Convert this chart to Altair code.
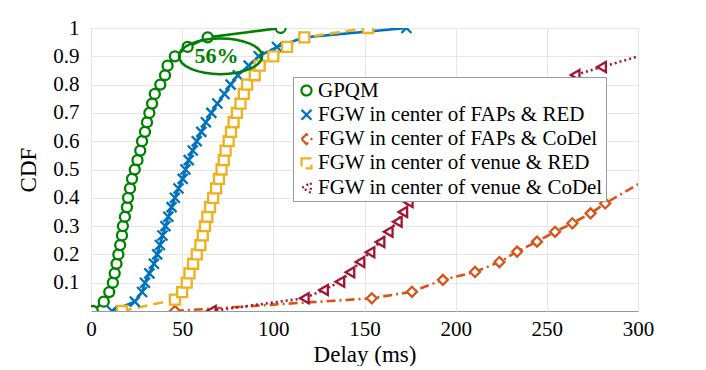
import altair as alt
import pandas as pd

series_names = [
    "GPQM",
    "FGW in center of FAPs & RED",
    "FGW in center of FAPs & CoDel",
    "FGW in center of venue & RED",
    "FGW in center of venue & CoDel",
]
colors = ["#008000", "#0072BD", "#D95319", "#EDB120", "#A2142F"]
x_path = "M-1,-1L1,1M-1,1L1,-1"
shapes = ["circle", x_path, "diamond", "square", "triangle-left"]
dashes = [[1, 0], [1, 0], [9, 4, 2, 4], [10, 6], [2, 3]]

gpqm_x = [1, 7, 10, 12, 13, 14, 15, 16, 17, 17.5, 18.6, 19.7, 20.3, 21.4, 22.5, 24, 25.5, 27, 28,
          29.6, 30.7, 32, 33.5, 35, 38, 40.6, 42, 46, 53, 64, 104]
gpqm_y = [0, 0.033, 0.067, 0.1, 0.133, 0.167, 0.2, 0.233, 0.267, 0.3, 0.333, 0.367, 0.4, 0.433,
          0.467, 0.5, 0.533, 0.567, 0.6, 0.633, 0.667, 0.7, 0.733, 0.767, 0.8, 0.833, 0.867, 0.9,
          0.933, 0.967, 1.0]

faps_red_x = [11.5, 24, 28, 29.6, 32, 34.5, 36.3, 37.8, 39.2, 40.8, 42.4, 44.2, 46, 48, 50.3,
              51.8, 53.6, 55.8, 58, 60.5, 63, 66, 69.3, 73.2, 76.6, 80.5, 86.5, 92, 102, 117, 173]
faps_red_y = [0, 0.033, 0.067, 0.1, 0.133, 0.167, 0.2, 0.233, 0.267, 0.3, 0.333, 0.367, 0.4,
              0.433, 0.467, 0.5, 0.533, 0.567, 0.6, 0.633, 0.667, 0.7, 0.733, 0.767, 0.8, 0.833,
              0.867, 0.9, 0.933, 0.967, 1.0]

faps_codel_x = [46, 154, 176, 193, 210.6, 224, 233.7, 244.6, 254.5, 264, 274, 282, 306]
faps_codel_y = [0, 0.045, 0.068, 0.11, 0.138, 0.173, 0.21, 0.245, 0.28, 0.31, 0.345, 0.38, 0.47]

venue_red_x = [17, 46, 50, 52.5, 54, 56, 58, 60, 61.3, 62.5, 63.8, 65.3, 67, 68.6, 70.2, 71.6,
               72.8, 73.8, 75.5, 76.8, 78.2, 80, 82, 83.8, 85.6, 89.8, 92.5, 100, 107.5, 117, 152]
venue_red_y = [0, 0.04, 0.067, 0.1, 0.133, 0.167, 0.2, 0.233, 0.267, 0.3, 0.333, 0.367, 0.4,
               0.433, 0.467, 0.5, 0.533, 0.567, 0.6, 0.633, 0.667, 0.7, 0.733, 0.767, 0.8, 0.833,
               0.867, 0.9, 0.933, 0.967, 1.0]

venue_codel_x = [66, 117, 127.5, 136.5, 142, 147.5, 153, 158.5, 163, 168, 171, 174, 180, 187,
                 195, 205, 216, 228, 241, 253, 265.5, 280, 310]
venue_codel_y = [0, 0.045, 0.074, 0.103, 0.137, 0.173, 0.208, 0.244, 0.28, 0.315, 0.35, 0.385,
                 0.42, 0.46, 0.5, 0.55, 0.6, 0.66, 0.72, 0.78, 0.834, 0.862, 0.918]

x_ticks = [0, 50, 100, 150, 200, 250, 300]
y_ticks = [0.1, 0.2, 0.3, 0.4, 0.5, 0.6, 0.7, 0.8, 0.9, 1.0]

note_x = [71]
note_y = [0.9]
note_text = ["56%"]

all_x = [gpqm_x, faps_red_x, faps_codel_x, venue_red_x, venue_codel_x]
all_y = [gpqm_y, faps_red_y, faps_codel_y, venue_red_y, venue_codel_y]

rows = []
for name, xs, ys in zip(series_names, all_x, all_y):
    for i, (xv, yv) in enumerate(zip(xs, ys)):
        rows.append({"series": name, "delay": xv, "cdf": yv, "idx": i})
df = pd.DataFrame(rows)
note_df = pd.DataFrame({"delay": note_x, "cdf": note_y, "text": note_text})

FONT = "Liberation Serif, Times New Roman, serif"

x_enc = alt.X("delay:Q", scale=alt.Scale(domain=[0, 300], nice=False),
              axis=alt.Axis(values=x_ticks, title="Delay (ms)", format="d",
                            labelOverlap=False, labelFlush=False, labelBound=False,
                            labelFont=FONT, titleFont=FONT))
y_enc = alt.Y("cdf:Q", scale=alt.Scale(domain=[0, 1], nice=False),
              axis=alt.Axis(values=y_ticks, title="CDF", format="~g",
                            labelOverlap=False, labelFlush=False, labelBound=False,
                            labelFont=FONT, titleFont=FONT))

legend = alt.Legend(
    title=None, orient="none", legendX=202, legendY=49,
    labelFont=FONT, labelFontSize=21, labelColor="#000",
    fillColor="white", strokeColor="#999", padding=3,
    symbolSize=100, symbolStrokeWidth=2.2, rowPadding=2.3, labelOffset=1,
    labelLimit=500, labelExpr="datum.label + '\u2003\u2003'",
)
color_enc = alt.Color("series:N", sort=series_names,
                      scale=alt.Scale(domain=series_names, range=colors), legend=legend)

base = alt.Chart(df)
lines = base.mark_line(strokeWidth=2.6, clip=True).encode(
    x=x_enc, y=y_enc, color=color_enc,
    strokeDash=alt.StrokeDash("series:N", scale=alt.Scale(domain=series_names, range=dashes),
                              legend=None),
    order="idx:Q",
)
points = base.mark_point(size=100, strokeWidth=2.3, filled=False, fill="white",
                         fillOpacity=1, opacity=1, clip=True).encode(
    x=x_enc, y=y_enc, color=color_enc,
    shape=alt.Shape("series:N", sort=series_names,
                    scale=alt.Scale(domain=series_names, range=shapes), legend=legend),
)

ellipse_path = "M-1,0A1,0.43,0,1,0,1,0A1,0.43,0,1,0,-1,0Z"
ellipse = alt.Chart(note_df).mark_point(shape=ellipse_path, size=6889, filled=False,
                                        strokeWidth=2.5, color="#008000", opacity=1).encode(
    x=x_enc, y=y_enc)
label = alt.Chart(note_df).mark_text(font=FONT, fontSize=22, fontWeight="bold",
                                     color="#008000", dx=-4).encode(
    x=x_enc, y=y_enc, text="text:N")

chart = alt.layer(lines, points, ellipse, label).properties(
    width=547, height=283,
    autosize=alt.AutoSizeParams(type="none"),
    padding={"left": 83, "top": 20, "right": 40, "bottom": 55},
).configure_view(stroke="#999", strokeWidth=1).configure_axis(
    grid=True, gridColor="#e6e6e6", gridWidth=1, ticks=False, domain=False,
    labelFont=FONT, labelFontSize=21, labelColor="#000", labelOverlap=False,
    titleFont=FONT, titleFontSize=23, titleFontWeight="normal", titleColor="#000",
).configure_axisX(labelPadding=7, titlePadding=4).configure_axisY(
    labelPadding=12, titlePadding=12
).configure_legend(labelFont=FONT, labelFontSize=21, labelColor="#000")

chart.save("out.html", embed_options={"renderer": "svg", "actions": False})
